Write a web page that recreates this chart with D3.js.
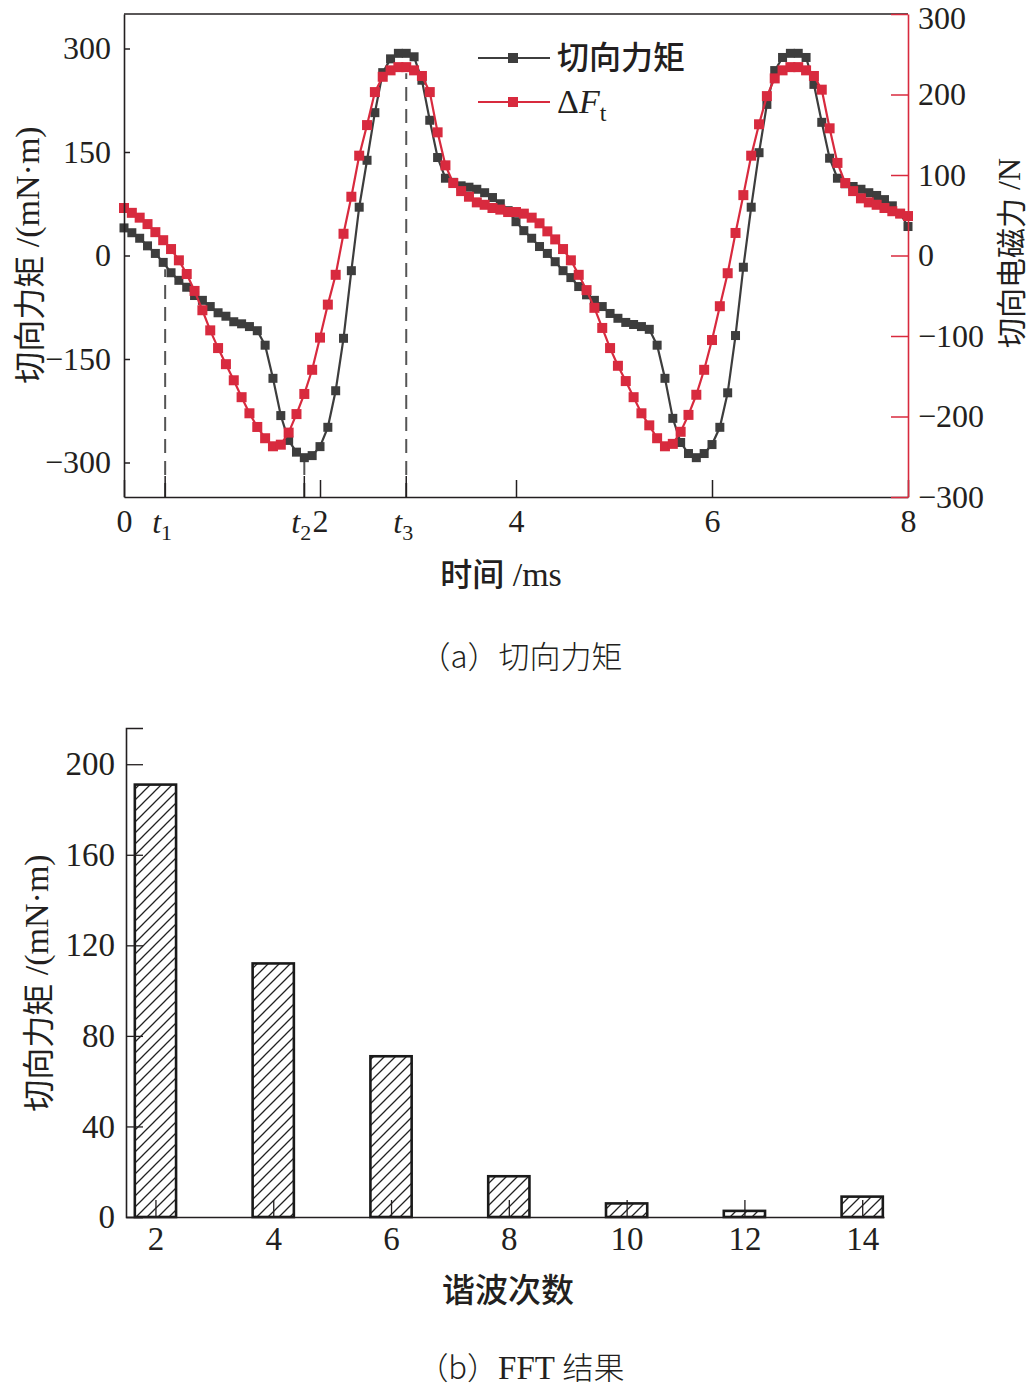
<!DOCTYPE html>
<html><head><meta charset="utf-8">
<script src="https://cdn.jsdelivr.net/npm/d3@7"></script>
<style>body{margin:0;background:#fff}svg{display:block}</style>
</head><body>
<svg id="c" width="1033" height="1389"></svg>
<script>
// ---------- data: (a) tangential torque & tangential EM force ----------
const times = [0,0.08,0.16,0.24,0.32,0.40,0.48,0.56,0.64,0.72,0.80,0.88,0.96,1.04,1.12,1.20,1.28,1.36,1.44,1.52,1.60,1.68,1.76,1.84,1.92,2.00,2.08,2.16,2.24,2.32,2.40,2.48,2.56,2.64,2.72,2.80,2.88,2.96,3.04,3.12,3.20,3.28,3.36,3.44,3.52,3.60,3.68,3.76,3.84,3.92,4.00,4.08,4.16,4.24,4.32,4.40,4.48,4.56,4.64,4.72,4.80,4.88,4.96,5.04,5.12,5.20,5.28,5.36,5.44,5.52,5.60,5.68,5.76,5.84,5.92,6.00,6.08,6.16,6.24,6.32,6.40,6.48,6.56,6.64,6.72,6.80,6.88,6.96,7.04,7.12,7.20,7.28,7.36,7.44,7.52,7.60,7.68,7.76,7.84,7.92,8.00];
const torque = [40,33,25,14,3,-10,-25,-36,-46,-58,
 -65,-74,-83,-88,-96,-99,-103,-109,-130,-178,
 -232,-268,-285,-293,-290,-277,-249,-196,-120,-22,
 70,138,207,265,285,293,293,288,254,196,
 142,112,106,101,99,96,91,84,75,65,
 49,36,25,13,3,-9,-22,-32,-45,-57,
 -65,-74,-84,-91,-97,-100,-103,-107,-130,-178,
 -236,-271,-287,-293,-287,-274,-249,-199,-116,-17,
 70,149,219,268,287,293,293,287,248,193,
 141,112,104,100,96,91,87,81,72,61,
 42];
const deltaFt = [59,53,47,39,29,19,8,-6,-23,-44,
 -68,-93,-115,-135,-155,-176,-196,-213,-227,-237,
 -235,-220,-197,-172,-142,-102,-61,-24,27,73,
 124,162,203,222,230,234,234,230,223,203,
 153,112,90,80,73,66,63,59,57,54,
 54,52,47,40,30,20,8,-6,-24,-43,
 -65,-90,-115,-137,-156,-176,-196,-211,-227,-237,
 -234,-219,-198,-173,-142,-105,-63,-22,28,75,
 124,163,198,220,230,234,234,230,223,206,
 158,115,90,80,71,66,63,59,55,52,
 49];
const xTicksTop = [0,2,4,6,8];
const yTicksLeft = [-300,-150,0,150,300];
const yTicksRight = [-300,-200,-100,0,100,200,300];
const markTimes = [0.42,1.84,2.88];
const markSubs = ["1","2","3"];
const markTops = [-20,-293,264];
const seriesNames = ["切向力矩","ΔFt"];

// ---------- data: (b) FFT ----------
const harmonics = [2,4,6,8,10,12,14];
const amplitude = [191,112,71,18,6,2.7,9];
const yTicksBottom = [0,40,80,120,160,200];

// ---------- drawing ----------
const SERIF = '"Liberation Serif","Times New Roman",serif';
const CJK = '"Noto Sans CJK SC","Noto Sans",sans-serif';
const TXT = '#231f20';
const BLK = '#3d3d3d';
const RED = '#d82a3e';

const svg = d3.select('#c');
svg.append('rect').attr('width',1033).attr('height',1389).attr('fill','#fff');

const x = d3.scaleLinear().domain([0,8]).range([124,908]);
const yL = d3.scaleLinear().domain([-350,350]).range([497,14]);
const yR = d3.scaleLinear().domain([-300,300]).range([497,14]);

// dashed marker lines + t ticks
markTimes.forEach((t,i)=>{
  svg.append('line').attr('x1',x(t)).attr('x2',x(t))
    .attr('y1',497).attr('y2',yL(markTops[i]))
    .attr('stroke','#555').attr('stroke-width',2).attr('stroke-dasharray','14,8');
  svg.append('line').attr('x1',x(t)).attr('x2',x(t)).attr('y1',497).attr('y2',476)
    .attr('stroke',TXT).attr('stroke-width',1.5);
  const tx = svg.append('text').attr('x',x(t) - 3).attr('y',533).attr('text-anchor','middle')
    .attr('font-family',SERIF).attr('font-size',32).attr('fill',TXT);
  tx.append('tspan').attr('font-style','italic').text('t');
  tx.append('tspan').attr('font-size',22).attr('dy',7).text(markSubs[i]);
});

// series
function drawSeries(vals, yScale, color, size){
  const line = d3.line().x((d,i)=>x(times[i])).y(d=>yScale(d));
  svg.append('path').datum(vals).attr('d',line).attr('fill','none')
    .attr('stroke',color).attr('stroke-width',2.2);
  svg.append('g').selectAll('rect').data(vals).join('rect')
    .attr('x',(d,i)=>x(times[i])-size/2).attr('y',d=>yScale(d)-size/2)
    .attr('width',size).attr('height',size).attr('fill',color);
}
drawSeries(torque, yL, BLK, 9);
drawSeries(deltaFt, yR, RED, 10);

// axes top chart
function styleAxis(g, lineColor){
  g.selectAll('text').attr('font-family',SERIF).attr('font-size',32).attr('fill',TXT);
  g.selectAll('line').attr('stroke',lineColor).attr('stroke-width',1.5);
  g.select('.domain').attr('stroke',lineColor).attr('stroke-width',1.6);
}
svg.append('line').attr('x1',124).attr('x2',908).attr('y1',14).attr('y2',14)
  .attr('stroke',TXT).attr('stroke-width',1.6);
const gL = svg.append('g').attr('transform','translate(124,0)')
  .call(d3.axisLeft(yL).tickValues(yTicksLeft).tickSize(-6).tickSizeOuter(0).tickPadding(13));
styleAxis(gL, TXT);
const gB = svg.append('g').attr('transform','translate(0,497)')
  .call(d3.axisBottom(x).tickValues(xTicksTop).tickFormat(d3.format('d')).tickSize(-17).tickSizeOuter(0).tickPadding(12));
styleAxis(gB, TXT);
const gR = svg.append('g').attr('transform','translate(908,0)')
  .call(d3.axisRight(yR).tickValues(yTicksRight).tickSize(-17).tickSizeOuter(0).tickPadding(10));
styleAxis(gR, RED);
gR.selectAll('.tick').filter(d=>d===300).select('text').attr('y',4);

// axis titles top chart
const tL = svg.append('text').attr('transform','translate(27,255) rotate(-90)')
  .attr('text-anchor','middle').attr('dominant-baseline','central').attr('fill',TXT);
tL.append('tspan').attr('font-family',CJK).attr('font-size',32).text('切向力矩');
tL.append('tspan').attr('font-family',SERIF).attr('font-size',34).text(' /(mN·m)');
const tR = svg.append('text').attr('transform','translate(1009,253) rotate(-90)')
  .attr('text-anchor','middle').attr('dominant-baseline','central').attr('fill',TXT);
tR.append('tspan').attr('font-family',CJK).attr('font-size',30).text('切向电磁力');
tR.append('tspan').attr('font-family',SERIF).attr('font-size',32).text(' /N');
const tX = svg.append('text').attr('x',501).attr('y',586).attr('text-anchor','middle').attr('fill',TXT);
tX.append('tspan').attr('font-family',CJK).attr('font-weight',500).attr('font-size',32).text('时间');
tX.append('tspan').attr('font-family',SERIF).attr('font-size',34).text(' /ms');

// legend
const legColors = [BLK, RED];
const legY = [58,102];
seriesNames.forEach((n,i)=>{
  svg.append('line').attr('x1',478).attr('x2',550).attr('y1',legY[i]).attr('y2',legY[i])
    .attr('stroke',legColors[i]).attr('stroke-width',2.2);
  svg.append('rect').attr('x',513-5).attr('y',legY[i]-5).attr('width',10).attr('height',10).attr('fill',legColors[i]);
  const t = svg.append('text').attr('x',557).attr('y',legY[i]+11).attr('fill',TXT);
  if(i===0){
    t.attr('font-family',CJK).attr('font-weight',500).attr('font-size',32).text(n);
  } else {
    t.attr('font-family',SERIF).attr('font-size',34);
    t.append('tspan').text('Δ');
    t.append('tspan').attr('font-style','italic').text('F');
    t.append('tspan').attr('font-size',24).attr('dy',8).text('t');
  }
});

// caption a
svg.append('text').attr('x',521).attr('y',668).attr('text-anchor','middle')
  .attr('font-family',CJK).attr('font-weight',300).attr('font-size',31).attr('fill',TXT)
  .text('（a）切向力矩');

// ---------- bottom chart ----------
const defs = svg.append('defs');
const pat = defs.append('pattern').attr('id','hatch').attr('patternUnits','userSpaceOnUse')
  .attr('width',11).attr('height',11);
pat.append('path').attr('d','M-2,2 L2,-2 M0,11 L11,0 M9,13 L13,9')
  .attr('stroke','#222').attr('stroke-width',1.3).attr('fill','none');

const xb = d3.scaleLinear().domain([1.5,14.37]).range([126,884]);
const yb = d3.scaleLinear().domain([0,216]).range([1217,728]);

svg.append('g').selectAll('rect').data(harmonics).join('rect')
  .attr('x',d=>xb(d-0.35)).attr('width',d=>xb(d+0.35)-xb(d-0.35))
  .attr('y',(d,i)=>yb(amplitude[i])).attr('height',(d,i)=>yb(0)-yb(amplitude[i]))
  .attr('fill','url(#hatch)').attr('stroke','#1a1a1a').attr('stroke-width',2.6);

function styleAxis2(g){
  g.selectAll('text').attr('font-family',SERIF).attr('font-size',33).attr('fill',TXT);
  g.selectAll('line').attr('stroke',TXT).attr('stroke-width',1.3);
  g.select('.domain').attr('stroke',TXT).attr('stroke-width',1.6);
}
const gbL = svg.append('g').attr('transform','translate(126,0)')
  .call(d3.axisLeft(yb).tickValues(yTicksBottom).tickSize(-17).tickSizeOuter(-17).tickPadding(11));
styleAxis2(gbL);
const gbB = svg.append('g').attr('transform','translate(0,1217)')
  .call(d3.axisBottom(xb).tickValues(harmonics).tickSize(-17).tickSizeOuter(0).tickPadding(10));
styleAxis2(gbB);

const tbL = svg.append('text').attr('transform','translate(36,983) rotate(-90)')
  .attr('text-anchor','middle').attr('dominant-baseline','central').attr('fill',TXT);
tbL.append('tspan').attr('font-family',CJK).attr('font-size',32).text('切向力矩');
tbL.append('tspan').attr('font-family',SERIF).attr('font-size',34).text(' /(mN·m)');

svg.append('text').attr('x',508).attr('y',1302).attr('text-anchor','middle')
  .attr('font-family',CJK).attr('font-weight',500).attr('font-size',33).attr('fill',TXT)
  .text('谐波次数');

const cb = svg.append('text').attr('x',521).attr('y',1379).attr('text-anchor','middle')
  .attr('font-weight',300).attr('font-size',31).attr('fill',TXT);
cb.append('tspan').attr('font-family',CJK).text('（b）');
cb.append('tspan').attr('font-family',SERIF).attr('font-size',33).text('FFT ');
cb.append('tspan').attr('font-family',CJK).text('结果');
</script>
</body></html>
